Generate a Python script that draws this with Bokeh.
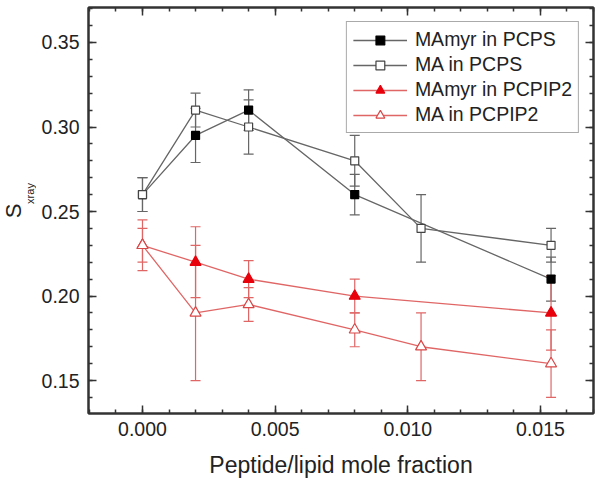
import math
from bokeh.plotting import figure
from bokeh.layouts import row
from bokeh.models import (ColumnDataSource, Whisker, TeeHead, LinearAxis, SingleIntervalTicker,
                          PrintfTickFormatter, Legend)
from bokeh.core.properties import value
from bokeh.embed import file_html
from bokeh.resources import INLINE

# ---- data ----
x_mamyr_pcps = [0.0, 0.002, 0.004, 0.008, 0.0154]
y_mamyr_pcps = [0.26, 0.295, 0.31, 0.26, 0.21]
e_mamyr_pcps = [0.01, 0.016, 0.012, 0.012, 0.013]

x_ma_pcps = [0.0, 0.002, 0.004, 0.008, 0.0105, 0.0154]
y_ma_pcps = [0.26, 0.31, 0.30, 0.28, 0.24, 0.23]
e_ma_pcps = [0.01, 0.01, 0.016, 0.015, 0.02, 0.01]

x_mamyr_pip2 = [0.0, 0.002, 0.004, 0.008, 0.0154]
y_mamyr_pip2 = [0.23, 0.22, 0.21, 0.20, 0.19]
e_mamyr_pip2 = [0.01, 0.021, 0.011, 0.01, 0.022]

x_ma_pip2 = [0.0, 0.002, 0.004, 0.008, 0.0105, 0.0154]
y_ma_pip2 = [0.23, 0.19, 0.195, 0.18, 0.17, 0.16]
e_ma_pip2 = [0.015, 0.04, 0.01, 0.01, 0.02, 0.02]

labels = ["MAmyr in PCPS", "MA in PCPS", "MAmyr in PCPIP2", "MA in PCPIP2"]
x_label = "Peptide/lipid mole fraction"
y_label_main = "S"
y_label_sub = "xray"

FONT = "Liberation Sans"
TXT = "#222222"
GREY = "#666666"
RED_LINE = "#e06666"
RED = "#e8000b"

H = 487
BT, BB = 7, 74
LW = 36

# ---- narrow left panel holding the y-axis label (S with subscript) ----
pl = figure(width=LW, height=H, output_backend="svg", toolbar_location=None,
            x_range=(0, LW), y_range=(0, H - BT - BB),
            x_axis_location=None, y_axis_location=None,
            min_border_left=0, min_border_right=0, min_border_top=BT, min_border_bottom=BB)
pl.xgrid.visible = False
pl.ygrid.visible = False
pl.outline_line_color = None
pl.text(x=[13], y=[202.5], text=[y_label_main], angle=math.pi / 2,
        text_align="center", text_baseline="middle",
        text_font=value(FONT), text_font_size="22px", text_color=TXT)
pl.text(x=[29], y=[220], text=[y_label_sub], angle=math.pi / 2,
        text_align="center", text_baseline="middle",
        text_font=value(FONT), text_font_size="11px", text_color=TXT)

# ---- main chart ----
p = figure(width=600 - LW, height=H, output_backend="svg", toolbar_location=None,
           x_range=(-0.002035, 0.017), y_range=(0.1305, 0.3707),
           min_border_left=88 - LW, min_border_right=7, min_border_top=BT, min_border_bottom=BB)
p.xgrid.visible = False
p.ygrid.visible = False
p.outline_line_color = "#333333"
p.outline_line_width = 2
p.background_fill_color = "white"
p.border_fill_color = "white"


def style_axis(ax, show_labels):
    ax.axis_line_color = "#333333"
    ax.axis_line_width = 2
    ax.major_tick_in = 8
    ax.major_tick_out = 0
    ax.minor_tick_in = 4
    ax.minor_tick_out = 0
    ax.major_tick_line_color = "#333333"
    ax.minor_tick_line_color = "#333333"
    ax.major_tick_line_width = 1.5
    ax.minor_tick_line_width = 1.5
    ax.major_label_text_font = FONT
    if show_labels:
        ax.major_label_text_color = TXT
        ax.major_label_text_font_size = "19.5px"
    else:
        # mirrored axis: ticks only, labels not painted
        ax.major_label_text_color = None
        ax.major_label_text_font_size = "1px"
        ax.major_label_standoff = 0


p.xaxis.ticker = SingleIntervalTicker(interval=0.005, num_minor_ticks=5)
p.yaxis.ticker = SingleIntervalTicker(interval=0.05, num_minor_ticks=5)
p.xaxis.formatter = PrintfTickFormatter(format="%.3f")
p.yaxis.formatter = PrintfTickFormatter(format="%.2f")
style_axis(p.xaxis[0], True)
style_axis(p.yaxis[0], True)
p.xaxis.major_label_standoff = 8
p.yaxis.major_label_standoff = 9
p.xaxis.axis_label = x_label
p.xaxis.axis_label_text_font = FONT
p.xaxis.axis_label_text_font_size = "23px"
p.xaxis.axis_label_text_font_style = "normal"
p.xaxis.axis_label_text_color = TXT
p.xaxis.axis_label_standoff = 13

top_ax = LinearAxis(ticker=SingleIntervalTicker(interval=0.005, num_minor_ticks=5))
right_ax = LinearAxis(ticker=SingleIntervalTicker(interval=0.05, num_minor_ticks=5))
style_axis(top_ax, False)
style_axis(right_ax, False)
p.add_layout(top_ax, "above")
p.add_layout(right_ax, "right")

series = [
    (x_mamyr_pcps, y_mamyr_pcps, e_mamyr_pcps, GREY, "square", "black", "black", 8),
    (x_ma_pcps, y_ma_pcps, e_ma_pcps, GREY, "square", "white", "#444444", 8),
    (x_mamyr_pip2, y_mamyr_pip2, e_mamyr_pip2, RED_LINE, "triangle", RED, RED, 11),
    (x_ma_pip2, y_ma_pip2, e_ma_pip2, RED_LINE, "triangle", "white", "#d84848", 11),
]

for (xs, ys, es, lc, mk, fc, mc, sz) in series:
    src = ColumnDataSource(dict(x=xs, y=ys,
                                upper=[a + b for a, b in zip(ys, es)],
                                lower=[a - b for a, b in zip(ys, es)]))
    w = Whisker(base="x", upper="upper", lower="lower", source=src,
                line_color=lc, line_width=1.2,
                upper_head=TeeHead(size=10, line_color=lc, line_width=1.2),
                lower_head=TeeHead(size=10, line_color=lc, line_width=1.2))
    p.add_layout(w)

items = []
for (xs, ys, es, lc, mk, fc, mc, sz), lab in zip(series, labels):
    src = ColumnDataSource(dict(x=xs, y=ys))
    r1 = p.line("x", "y", source=src, line_color=lc, line_width=1.3)
    r2 = p.scatter("x", "y", source=src, marker=mk, size=sz, fill_color=fc,
                   line_color=mc, line_width=1.2)
    items.append((lab, [r1, r2]))

legend = Legend(items=items, location="top_right")
legend.label_text_font = FONT
legend.label_text_font_size = "19.5px"
legend.label_text_color = TXT
legend.border_line_color = "#555555"
legend.border_line_width = 1
legend.glyph_width = 54
legend.glyph_height = 22
legend.label_height = 22
legend.label_standoff = 8
legend.spacing = 2
legend.padding = 6
legend.margin = 14
legend.background_fill_alpha = 1.0
p.add_layout(legend)

layout = row(pl, p)
open("out.html", "w").write(file_html(layout, INLINE))
